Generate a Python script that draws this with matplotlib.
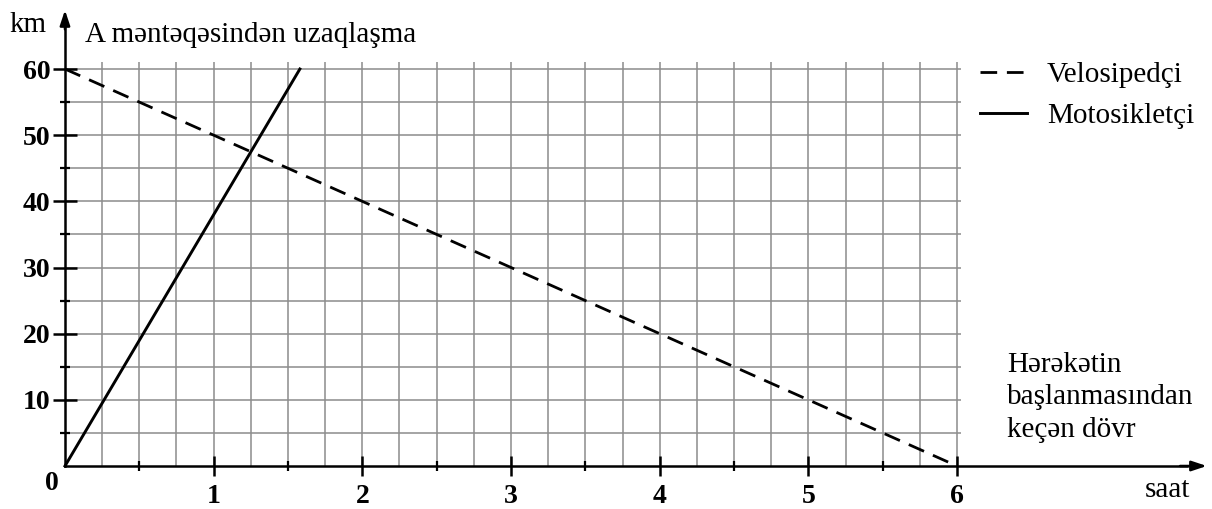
import numpy as np
import matplotlib
matplotlib.use('Agg')
import matplotlib.pyplot as plt

plt.rcParams['font.family'] = ['Liberation Serif', 'DejaVu Serif']

# data
hours_bike = [0, 6]
km_bike = [60, 0]
hours_moto = [0, 1.58]
km_moto = [0, 60]
x_ticks = [1, 2, 3, 4, 5, 6]
y_ticks = [10, 20, 30, 40, 50, 60]

fig = plt.figure(figsize=(12.12, 5.09), dpi=100)
ax = fig.add_axes([0, 0, 1, 1])
ax.set_xlim(-0.437, 7.715)
ax.set_ylim(-6.5, 70.43)

# grid
grid_c = '#8c8c8c'
ax.vlines(np.arange(0.25, 6.01, 0.25), 0, 61, color=grid_c, lw=1.1, zorder=1)
ax.hlines(np.arange(5, 61, 5), 0, 6.03, color=grid_c, lw=1.1, zorder=1)

# axes through the origin
for s in ['top', 'right']:
    ax.spines[s].set_visible(False)
ax.spines['left'].set_position(('data', 0))
ax.spines['bottom'].set_position(('data', 0))
ax.spines['left'].set_bounds(0, 67)
ax.spines['bottom'].set_bounds(0, 7.55)
ax.spines['left'].set_linewidth(1.8)
ax.spines['bottom'].set_linewidth(1.8)
ax.annotate('', xy=(7.68, 0), xytext=(7.5, 0),
            arrowprops=dict(arrowstyle='-|>,head_length=0.9,head_width=0.3',
                            color='k', lw=1.8, shrinkA=0, shrinkB=0))
ax.annotate('', xy=(0, 68.9), xytext=(0, 66),
            arrowprops=dict(arrowstyle='-|>,head_length=0.9,head_width=0.3',
                            color='k', lw=1.8, shrinkA=0, shrinkB=0))

# ticks
ax.set_xticks(x_ticks)
ax.set_xticklabels([str(t) for t in x_ticks], fontweight='bold')
ax.set_xticks(np.arange(0.5, 6, 1), minor=True)
ax.set_yticks(y_ticks)
ax.set_yticklabels([str(t) for t in y_ticks], fontweight='bold')
ax.set_yticks(np.arange(5, 60, 10), minor=True)
ax.tick_params(axis='x', which='major', direction='inout', length=14, width=1.8,
               pad=6, labelsize=20)
ax.tick_params(axis='x', which='minor', direction='inout', length=7, width=1.6)
ax.tick_params(axis='y', which='major', direction='inout', length=17, width=1.8,
               pad=2, labelsize=20)
ax.tick_params(axis='y', which='minor', direction='inout', length=7, width=1.6)
ax.text(-0.09, -2.6, '0', fontsize=20, fontweight='bold', ha='center', va='center')

# lines
ax.plot(hours_bike, km_bike, color='k', lw=2.0, dashes=(6, 3.5), label='Velosipedçi', zorder=3)
ax.plot(hours_moto, km_moto, color='k', lw=2.1, label='Motosikletçi', zorder=3)

# labels
ax.text(-0.37, 65.6, 'km', fontsize=21, ha='left', va='baseline')
ax.text(0.135, 64.1, 'A məntəqəsindən uzaqlaşma', fontsize=21, ha='left', va='baseline')
ax.text(6.336, 17.3, 'Hərəkətin\nbaşlanmasından\nkeçən dövr', fontsize=21,
        ha='left', va='top', linespacing=1.33)
ax.text(7.26, -4.7, 'saat', fontsize=21, ha='left', va='baseline')

ax.legend(loc='upper left', bbox_to_anchor=(980 / 1212, 1 - 62 / 509), frameon=False,
          fontsize=21, handlelength=1.6, handletextpad=0.7, labelspacing=0.5,
          borderpad=0, borderaxespad=0)

fig.savefig('out.png', dpi=100)
